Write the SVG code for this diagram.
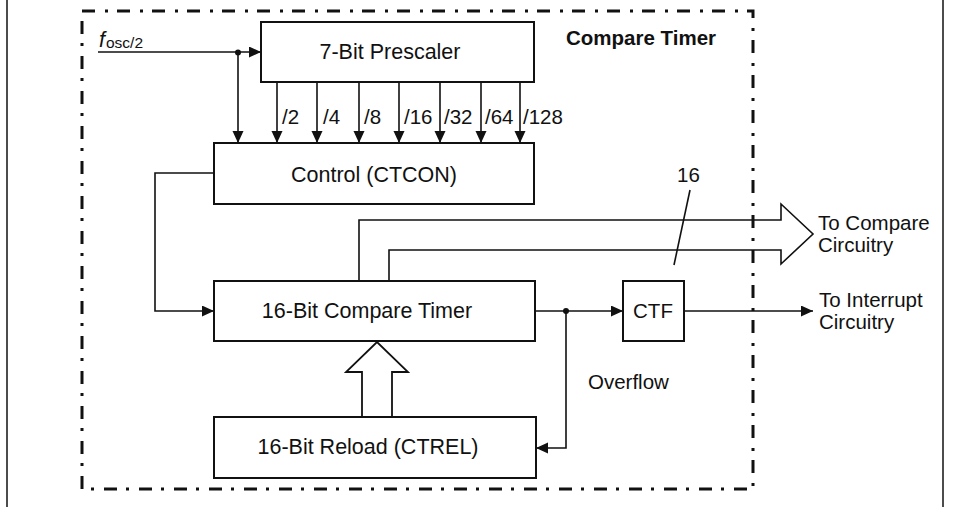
<svg xmlns="http://www.w3.org/2000/svg" width="954" height="507" viewBox="0 0 954 507">
<defs>
<marker id="ah" markerUnits="userSpaceOnUse" markerWidth="13" markerHeight="12" refX="12" refY="5.5" orient="auto">
<path d="M0,0 L12,5.5 L0,11 z" fill="#111"/>
</marker>
<style>
.box{fill:#fff;stroke:#111;stroke-width:2}
.ln{fill:none;stroke:#111;stroke-width:1.6}
.t{font-family:"Liberation Sans",Arial,sans-serif;font-size:21.5px;fill:#111}
.s{font-family:"Liberation Sans",Arial,sans-serif;font-size:20.5px;fill:#111}
.b{font-family:"Liberation Sans",Arial,sans-serif;font-size:20.5px;font-weight:bold;fill:#111}
.frame{fill:none;stroke:#111;stroke-width:1.5}
.dd{fill:none;stroke:#111;stroke-width:3;stroke-dasharray:13 10 3 9}
</style>
</defs>
<rect width="954" height="507" fill="#fff"/>
<g id="frame">
<line class="frame" x1="7" y1="0" x2="7" y2="507"/>
<line class="frame" x1="943" y1="0" x2="943" y2="507"/>
<rect class="dd" x="82" y="11" width="671" height="478"/>
<text class="b" x="566" y="45">Compare Timer</text>
</g>
<g id="connectors">
<line class="ln" x1="98" y1="52" x2="261" y2="52" marker-end="url(#ah)"/>
<circle cx="238" cy="52.5" r="3" fill="#111"/>
<line class="ln" x1="238" y1="52" x2="238" y2="143" marker-end="url(#ah)"/>
<line class="ln" x1="277" y1="82" x2="277" y2="143" marker-end="url(#ah)"/>
<line class="ln" x1="317" y1="82" x2="317" y2="143" marker-end="url(#ah)"/>
<line class="ln" x1="359" y1="82" x2="359" y2="143" marker-end="url(#ah)"/>
<line class="ln" x1="399" y1="82" x2="399" y2="143" marker-end="url(#ah)"/>
<line class="ln" x1="440" y1="82" x2="440" y2="143" marker-end="url(#ah)"/>
<line class="ln" x1="481" y1="82" x2="481" y2="143" marker-end="url(#ah)"/>
<line class="ln" x1="520" y1="82" x2="520" y2="143" marker-end="url(#ah)"/>
<polyline class="ln" points="214,173 155,173 155,311 214,311" marker-end="url(#ah)"/>
<path class="ln" d="M359,281 V220 H781 V204 L813,234 L781,264 V250 H389 V281"/>
<line class="ln" x1="690" y1="190" x2="674" y2="265"/>
<line class="ln" x1="535" y1="311" x2="623" y2="311" marker-end="url(#ah)"/>
<circle cx="566" cy="311" r="3" fill="#111"/>
<polyline class="ln" points="566,311 566,448 536,448" marker-end="url(#ah)"/>
<line class="ln" x1="684" y1="311" x2="813" y2="311" marker-end="url(#ah)"/>
<path class="ln" d="M362,417 V372 H346 L377,342 L408,372 H392 V417" style="stroke-width:1.8"/>
</g>
<g id="fosc">
<text class="t" x="99" y="47" font-style="italic">f</text>
<text class="s" x="106" y="48" style="font-size:15.5px">osc/2</text>
</g>
<g id="prescaler">
<rect class="box" x="261" y="22" width="273" height="60"/>
<text class="t" x="390" y="59" text-anchor="middle">7-Bit Prescaler</text>
</g>
<g id="divlabels">
<text class="s" x="282" y="124">/2</text>
<text class="s" x="323" y="124">/4</text>
<text class="s" x="364" y="124">/8</text>
<text class="s" x="404" y="124">/16</text>
<text class="s" x="444" y="124">/32</text>
<text class="s" x="485" y="124">/64</text>
<text class="s" x="523" y="124">/128</text>
</g>
<g id="control">
<rect class="box" x="214" y="143" width="320" height="61"/>
<text class="t" x="374" y="182" text-anchor="middle">Control (CTCON)</text>
</g>
<g id="timer">
<rect class="box" x="214" y="281" width="321" height="60"/>
<text class="t" x="367" y="318" text-anchor="middle">16-Bit Compare Timer</text>
</g>
<g id="ctf">
<rect class="box" x="623" y="281" width="61" height="60"/>
<text class="s" x="653" y="318" text-anchor="middle">CTF</text>
</g>
<g id="reload">
<rect class="box" x="214" y="417" width="322" height="61"/>
<text class="t" x="368" y="454" text-anchor="middle">16-Bit Reload (CTREL)</text>
</g>
<g id="labels">
<text class="s" x="677" y="182">16</text>
<text class="s" x="818" y="230">To Compare</text>
<text class="s" x="818" y="252">Circuitry</text>
<text class="s" x="819" y="307">To Interrupt</text>
<text class="s" x="819" y="329">Circuitry</text>
<text class="s" x="588" y="389">Overflow</text>
</g>
</svg>
